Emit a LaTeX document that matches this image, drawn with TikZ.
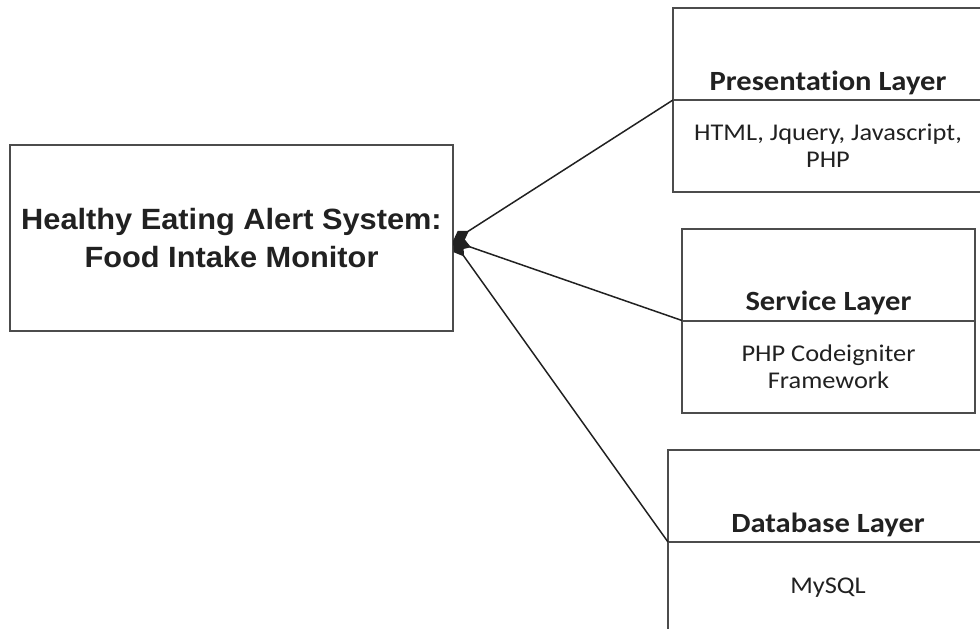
\documentclass[tikz,border=0pt]{standalone}
\usepackage{fontspec}
\usepackage{tikz}
\usetikzlibrary{arrows.meta,positioning}
\newfontfamily\sysfont[FakeStretch=1.05]{Liberation Sans}
\newfontfamily\layerfont[FakeStretch=1.1,RawFeature={-liga;-clig;-calt;-dlig}]{Carlito}
\definecolor{linegray}{gray}{0.3}
\definecolor{inkgray}{gray}{0.13}

\begin{document}
\begin{tikzpicture}[x=1pt,y=-1pt,line width=2pt,draw=linegray,text=inkgray,
system node/.style={draw,outer sep=0pt,minimum width=443pt,minimum height=186pt,align=center,font=\sysfont\bfseries\fontsize{29.3}{38}\selectfont},
head node/.style={draw,outer sep=0pt,inner ysep=8pt,text height=74pt,text depth=2pt,font=\layerfont\bfseries\fontsize{27.8}{32}\selectfont},
body node/.style={draw,outer sep=0pt,minimum height=92pt,align=center,font=\layerfont\fontsize{24}{27}\selectfont},
link/.style={{Diamond[length=19pt,width=12pt]}-,line width=1.5pt,draw=inkgray}]

\clip (0,0) rectangle (980,629);

\node[system node] (main) at (231.5,238) {Healthy Eating Alert System:\\Food Intake Monitor};

% layers
\node[head node,minimum width=310pt] (pres) at (828,54) {Presentation Layer};
\node[body node,minimum width=310pt,below=0pt of pres] (presb) {HTML, Jquery, Javascript,\\PHP};

\node[head node,minimum width=293pt] (serv) at (828.5,274.5) {Service Layer};
\node[body node,minimum width=293pt,below=0pt of serv] (servb) {PHP Codeigniter\\Framework};

\node[head node,minimum width=320pt] (db) at (828,496) {Database Layer};
\node[body node,minimum width=320pt,below=0pt of db] (dbb) {MySQL};

\path ([yshift=-3pt]main.east) edge[link] (pres.south west)
                               edge[link] (serv.south west)
                               edge[link] (db.south west);

\end{tikzpicture}
\end{document}
